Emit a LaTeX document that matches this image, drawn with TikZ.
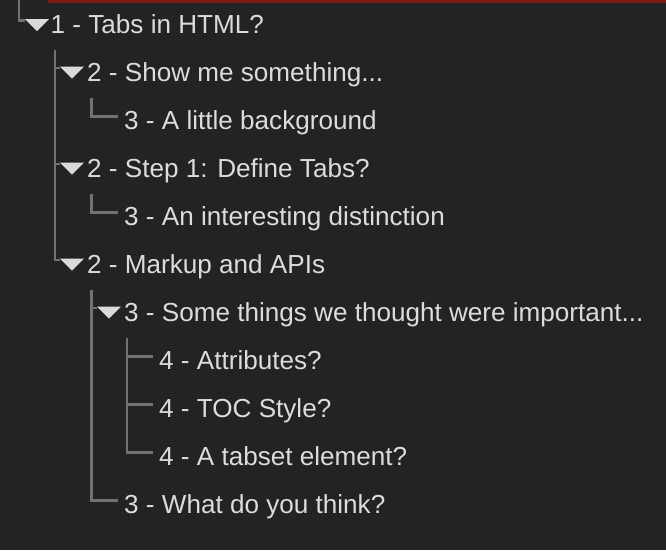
\documentclass[tikz,border=0pt]{standalone}
\usepackage{fontspec}
\setmainfont{Liberation Sans}
\definecolor{panel}{HTML}{232323}
\definecolor{treeline}{HTML}{727272}
\definecolor{itemtext}{HTML}{DCDCDC}
\definecolor{caretfill}{HTML}{DADADA}
\definecolor{activebar}{HTML}{7B1A13}
\begin{document}
\begin{tikzpicture}[x=1pt,y=-1pt,
    item/.style={anchor=base west, inner sep=0pt, text=itemtext,
      font=\fontsize{26.1}{30}\selectfont},
    branch/.style={draw=treeline, line width=2.2pt},
    caret/.style={fill=caretfill}]
    \fill[panel] (0,0) rectangle (666,550);
    \useasboundingbox (0,0) rectangle (666,550);
    \fill[activebar] (48,0) rectangle (666,2.5);

    % rows
    \node[item] (r0) at (50.5,33) {1 - Tabs in HTML?};
    \node[item] (r1) at (87,81) {2 - Show me something...};
    \node[item] (r2) at (124,129) {3 - A little background};
    \node[item] (r3) at (87,177) {2 - Step 1: Define Tabs?};
    \node[item] (r4) at (124,225) {3 - An interesting distinction};
    \node[item] (r5) at (87,273) {2 - Markup and APIs};
    \node[item] (r6) at (124,321) {3 - Some things we thought were important...};
    \node[item] (r7) at (159,369) {4 - Attributes?};
    \node[item] (r8) at (159,417) {4 - TOC Style?};
    \node[item] (r9) at (159,465) {4 - A tabset element?};
    \node[item] (r10) at (124,513) {3 - What do you think?};

    % where the branches start
    \coordinate (v0) at (19,0);
    \coordinate (v1) at (55,50);
    \coordinate (v2) at (91.5,98);
    \coordinate (v3) at (91.5,194);
    \coordinate (v4) at (91.5,290);
    \coordinate (v5) at (127,338);

    % where the branches end
    \coordinate (h0) at (25,20.5);
    \coordinate (h1) at (60,68);
    \coordinate (h2) at (117.5,116.5);
    \coordinate (h3) at (60,164);
    \coordinate (h4) at (117.5,212.5);
    \coordinate (h5) at (60,260);
    \coordinate (h6) at (97,308);
    \coordinate (h7) at (153,356.5);
    \coordinate (h8) at (153,404.5);
    \coordinate (h9) at (153,452.5);
    \coordinate (h10) at (117.5,500.5);

    \draw[branch] (v0) |- (h0);
    \draw[branch] (v1) |- (h1);
    \draw[branch] (v1) |- (h3);
    \draw[branch] (v1) |- (h5);
    \draw[branch] (v2) |- (h2);
    \draw[branch] (v3) |- (h4);
    \draw[branch] (v4) |- (h6);
    \draw[branch] (v4) |- (h10);
    \draw[branch] (v5) |- (h7);
    \draw[branch] (v5) |- (h8);
    \draw[branch] (v5) |- (h9);

    % open carets
    \fill[caret] (h0) ++(0,-1.5) -- ++(24,0) -- ++(-12,12) -- cycle;
    \fill[caret] (h1) ++(0,-1.5) -- ++(24,0) -- ++(-12,12) -- cycle;
    \fill[caret] (h3) ++(0,-1.5) -- ++(24,0) -- ++(-12,12) -- cycle;
    \fill[caret] (h5) ++(0,-1.5) -- ++(24,0) -- ++(-12,12) -- cycle;
    \fill[caret] (h6) ++(0,-1.5) -- ++(24,0) -- ++(-12,12) -- cycle;
  \end{tikzpicture}
\end{document}
